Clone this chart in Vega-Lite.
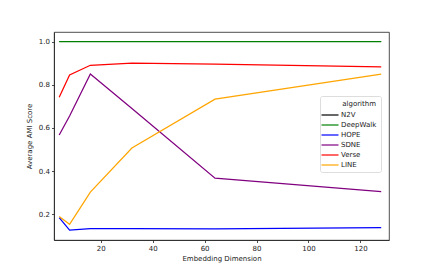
{
  "$schema": "https://vega.github.io/schema/vega-lite/v6.json",
  "autosize": "none",
  "width": 335,
  "height": 208,
  "padding": {"left": 54, "top": 32, "right": 43, "bottom": 30},
  "background": "white",
  "config": {
    "view": {"stroke": "#222222", "strokeWidth": 0.8},
    "font": "DejaVu Sans",
    "axis": {"grid": false, "labelFont": "DejaVu Sans", "titleFont": "DejaVu Sans", "labelFontSize": 7, "titleFontSize": 7, "titleFontWeight": "normal", "labelColor": "#222222", "titleColor": "#222222", "domainColor": "#222222", "tickColor": "#222222", "tickSize": 2.5, "domainWidth": 0.8, "tickWidth": 0.8}
  },
  "data": {
    "values": [
      {"dim": 4, "score": 1.0, "algorithm": "N2V"},
      {"dim": 8, "score": 1.0, "algorithm": "N2V"},
      {"dim": 16, "score": 1.0, "algorithm": "N2V"},
      {"dim": 32, "score": 1.0, "algorithm": "N2V"},
      {"dim": 64, "score": 1.0, "algorithm": "N2V"},
      {"dim": 128, "score": 1.0, "algorithm": "N2V"},
      {"dim": 4, "score": 1.0, "algorithm": "DeepWalk"},
      {"dim": 8, "score": 1.0, "algorithm": "DeepWalk"},
      {"dim": 16, "score": 1.0, "algorithm": "DeepWalk"},
      {"dim": 32, "score": 1.0, "algorithm": "DeepWalk"},
      {"dim": 64, "score": 1.0, "algorithm": "DeepWalk"},
      {"dim": 128, "score": 1.0, "algorithm": "DeepWalk"},
      {"dim": 4, "score": 0.185, "algorithm": "HOPE"},
      {"dim": 8, "score": 0.127, "algorithm": "HOPE"},
      {"dim": 16, "score": 0.134, "algorithm": "HOPE"},
      {"dim": 32, "score": 0.134, "algorithm": "HOPE"},
      {"dim": 64, "score": 0.133, "algorithm": "HOPE"},
      {"dim": 128, "score": 0.138, "algorithm": "HOPE"},
      {"dim": 4, "score": 0.567, "algorithm": "SDNE"},
      {"dim": 8, "score": 0.655, "algorithm": "SDNE"},
      {"dim": 16, "score": 0.85, "algorithm": "SDNE"},
      {"dim": 32, "score": 0.69, "algorithm": "SDNE"},
      {"dim": 64, "score": 0.367, "algorithm": "SDNE"},
      {"dim": 128, "score": 0.305, "algorithm": "SDNE"},
      {"dim": 4, "score": 0.742, "algorithm": "Verse"},
      {"dim": 8, "score": 0.845, "algorithm": "Verse"},
      {"dim": 16, "score": 0.89, "algorithm": "Verse"},
      {"dim": 32, "score": 0.9, "algorithm": "Verse"},
      {"dim": 64, "score": 0.895, "algorithm": "Verse"},
      {"dim": 128, "score": 0.882, "algorithm": "Verse"},
      {"dim": 4, "score": 0.19, "algorithm": "LINE"},
      {"dim": 8, "score": 0.154, "algorithm": "LINE"},
      {"dim": 16, "score": 0.303, "algorithm": "LINE"},
      {"dim": 32, "score": 0.507, "algorithm": "LINE"},
      {"dim": 64, "score": 0.733, "algorithm": "LINE"},
      {"dim": 128, "score": 0.849, "algorithm": "LINE"}
    ]
  },
  "encoding": {
    "x": {"field": "dim", "type": "quantitative", "title": "Embedding Dimension",
      "scale": {"domain": [2, 131], "nice": false, "zero": false},
      "axis": {"values": [20, 40, 60, 80, 100, 120], "titlePadding": 3}},
    "y": {"field": "score", "type": "quantitative", "title": "Average AMI Score",
      "scale": {"domain": [0.081, 1.044], "nice": false, "zero": false},
      "axis": {"values": [0.2, 0.4, 0.6, 0.8, 1.0], "format": ".1f", "titlePadding": 6}},
    "color": {"field": "algorithm", "type": "nominal",
      "sort": ["N2V", "DeepWalk", "HOPE", "SDNE", "Verse", "LINE"],
      "scale": {"domain": ["N2V", "DeepWalk", "HOPE", "SDNE", "Verse", "LINE"],
        "range": ["#000000", "#008000", "#0000ff", "#800080", "#ff0000", "#ffa500"]},
      "legend": {"orient": "none", "legendX": 266, "legendY": 64, "title": "algorithm",
        "titleFontSize": 7, "titleFontWeight": "normal", "titleFont": "DejaVu Sans", "titleColor": "#222222",
        "titlePadding": 2, "titleAnchor": "end",
        "labelFontSize": 7, "labelFont": "DejaVu Sans", "labelColor": "#222222", "labelOffset": 5,
        "symbolType": "M-1.7,0L1.7,0", "symbolSize": 100, "symbolStrokeWidth": 1.2,
        "rowPadding": 1, "fillColor": "white", "strokeColor": "#dddddd", "padding": 4, "cornerRadius": 2}}
  },
  "layer": [
    {"transform": [{"filter": "datum.algorithm === 'N2V'"}], "mark": {"type": "line", "strokeWidth": 0.6}},
    {"transform": [{"filter": "datum.algorithm !== 'N2V'"}], "mark": {"type": "line", "strokeWidth": 1.25}}
  ]
}
